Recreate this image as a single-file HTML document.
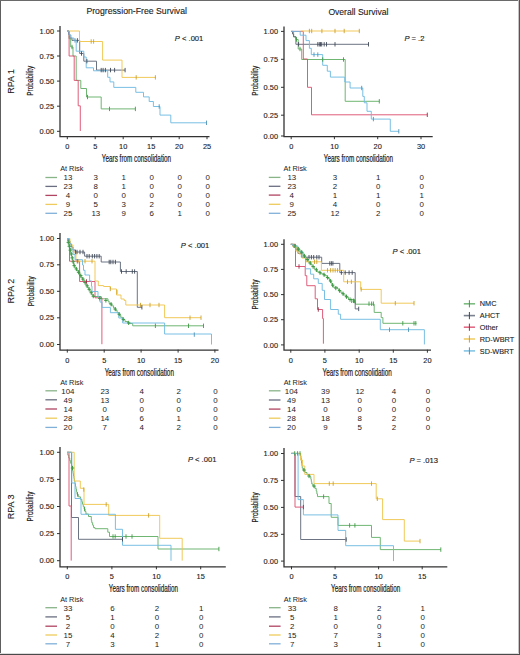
<!DOCTYPE html><html><head><meta charset="utf-8"><style>html,body{margin:0;padding:0;background:#fff;overflow:hidden}svg{display:block}text{font-family:"Liberation Sans",sans-serif}</style></head><body>
<svg width="520" height="655" viewBox="0 0 520 655">
<rect width="520" height="655" fill="#fff"/>
<text x="86.4" y="14.4" font-size="8.7" text-anchor="start" fill="#1c1c1c" stroke="#1c1c1c" stroke-width="0.12" textLength="100.6" lengthAdjust="spacingAndGlyphs">Progression-Free Survival</text>
<text x="328.4" y="14.6" font-size="8.7" text-anchor="start" fill="#1c1c1c" stroke="#1c1c1c" stroke-width="0.12" textLength="60" lengthAdjust="spacingAndGlyphs">Overall Survival</text>
<text x="0" y="0" font-size="9.3" text-anchor="middle" fill="#1c1c1c" stroke="#1c1c1c" stroke-width="0.12" textLength="24.8" lengthAdjust="spacingAndGlyphs" transform="translate(14.2,81.3) rotate(-90)">RPA 1</text>
<text x="0" y="0" font-size="9.3" text-anchor="middle" fill="#1c1c1c" stroke="#1c1c1c" stroke-width="0.12" textLength="24.8" lengthAdjust="spacingAndGlyphs" transform="translate(14.2,291.2) rotate(-90)">RPA 2</text>
<text x="0" y="0" font-size="9.3" text-anchor="middle" fill="#1c1c1c" stroke="#1c1c1c" stroke-width="0.12" textLength="24.8" lengthAdjust="spacingAndGlyphs" transform="translate(14.2,506.8) rotate(-90)">RPA 3</text>
<path d="M60.0,26V136.7H209.5" fill="none" stroke="#333333" stroke-width="1.3"/>
<path d="M57.0,31H60.0" stroke="#333333" stroke-width="1"/>
<text x="54.0" y="33.6" font-size="7.4" text-anchor="end" fill="#1c1c1c" stroke="#1c1c1c" stroke-width="0.12">1.00</text>
<path d="M57.0,56H60.0" stroke="#333333" stroke-width="1"/>
<text x="54.0" y="58.6" font-size="7.4" text-anchor="end" fill="#1c1c1c" stroke="#1c1c1c" stroke-width="0.12">0.75</text>
<path d="M57.0,81.1H60.0" stroke="#333333" stroke-width="1"/>
<text x="54.0" y="83.69999999999999" font-size="7.4" text-anchor="end" fill="#1c1c1c" stroke="#1c1c1c" stroke-width="0.12">0.50</text>
<path d="M57.0,106.2H60.0" stroke="#333333" stroke-width="1"/>
<text x="54.0" y="108.8" font-size="7.4" text-anchor="end" fill="#1c1c1c" stroke="#1c1c1c" stroke-width="0.12">0.25</text>
<path d="M57.0,131.3H60.0" stroke="#333333" stroke-width="1"/>
<text x="54.0" y="133.9" font-size="7.4" text-anchor="end" fill="#1c1c1c" stroke="#1c1c1c" stroke-width="0.12">0.00</text>
<path d="M67.3,136.2V139.2" stroke="#333333" stroke-width="1"/>
<text x="67.3" y="149.1" font-size="7.4" text-anchor="middle" fill="#1c1c1c" stroke="#1c1c1c" stroke-width="0.12">0</text>
<path d="M95.2,136.2V139.2" stroke="#333333" stroke-width="1"/>
<text x="95.2" y="149.1" font-size="7.4" text-anchor="middle" fill="#1c1c1c" stroke="#1c1c1c" stroke-width="0.12">5</text>
<path d="M123.2,136.2V139.2" stroke="#333333" stroke-width="1"/>
<text x="123.2" y="149.1" font-size="7.4" text-anchor="middle" fill="#1c1c1c" stroke="#1c1c1c" stroke-width="0.12">10</text>
<path d="M151.2,136.2V139.2" stroke="#333333" stroke-width="1"/>
<text x="151.2" y="149.1" font-size="7.4" text-anchor="middle" fill="#1c1c1c" stroke="#1c1c1c" stroke-width="0.12">15</text>
<path d="M179.2,136.2V139.2" stroke="#333333" stroke-width="1"/>
<text x="179.2" y="149.1" font-size="7.4" text-anchor="middle" fill="#1c1c1c" stroke="#1c1c1c" stroke-width="0.12">20</text>
<path d="M207,136.2V139.2" stroke="#333333" stroke-width="1"/>
<text x="207" y="149.1" font-size="7.4" text-anchor="middle" fill="#1c1c1c" stroke="#1c1c1c" stroke-width="0.12">25</text>
<text x="136.5" y="162.29999999999998" font-size="10.1" text-anchor="middle" fill="#1c1c1c" stroke="#1c1c1c" stroke-width="0.22" textLength="69.3" lengthAdjust="spacingAndGlyphs">Years from consolidation</text>
<text x="0" y="0" font-size="9.6" text-anchor="middle" fill="#1c1c1c" stroke="#1c1c1c" stroke-width="0.2" textLength="30" lengthAdjust="spacingAndGlyphs" transform="translate(33.3,80.7) rotate(-90)">Probability</text>
<text x="174.8" y="41" font-size="7.6" fill="#1c1c1c" stroke="#1c1c1c" stroke-width="0.15"><tspan font-style="italic">P</tspan> &lt; .001</text>
<text x="60.2" y="171.2" font-size="7.3" text-anchor="start" fill="#1c1c1c" stroke="#1c1c1c" stroke-width="0">At Risk</text>
<path d="M45.400000000000006,177.5H57.00000000000001" stroke="#88b488" stroke-width="1.3"/>
<text x="67.89999999999999" y="180.3" font-size="7.9" text-anchor="middle" fill="#1c1c1c" stroke="#1c1c1c" stroke-width="0">13</text>
<text x="95.8" y="180.3" font-size="7.9" text-anchor="middle" fill="#1c1c1c" stroke="#1c1c1c" stroke-width="0">3</text>
<text x="123.8" y="180.3" font-size="7.9" text-anchor="middle" fill="#1c1c1c" stroke="#1c1c1c" stroke-width="0">1</text>
<text x="151.79999999999998" y="180.3" font-size="7.9" text-anchor="middle" fill="#1c1c1c" stroke="#1c1c1c" stroke-width="0">0</text>
<text x="179.79999999999998" y="180.3" font-size="7.9" text-anchor="middle" fill="#1c1c1c" stroke="#1c1c1c" stroke-width="0">0</text>
<text x="207.6" y="180.3" font-size="7.9" text-anchor="middle" fill="#1c1c1c" stroke="#1c1c1c" stroke-width="0">0</text>
<path d="M45.400000000000006,186.4H57.00000000000001" stroke="#6a6e80" stroke-width="1.3"/>
<text x="67.89999999999999" y="189.20000000000002" font-size="7.9" text-anchor="middle" fill="#1c1c1c" stroke="#1c1c1c" stroke-width="0">23</text>
<text x="95.8" y="189.20000000000002" font-size="7.9" text-anchor="middle" fill="#1c1c1c" stroke="#1c1c1c" stroke-width="0">8</text>
<text x="123.8" y="189.20000000000002" font-size="7.9" text-anchor="middle" fill="#1c1c1c" stroke="#1c1c1c" stroke-width="0">1</text>
<text x="151.79999999999998" y="189.20000000000002" font-size="7.9" text-anchor="middle" fill="#1c1c1c" stroke="#1c1c1c" stroke-width="0">0</text>
<text x="179.79999999999998" y="189.20000000000002" font-size="7.9" text-anchor="middle" fill="#1c1c1c" stroke="#1c1c1c" stroke-width="0">0</text>
<text x="207.6" y="189.20000000000002" font-size="7.9" text-anchor="middle" fill="#1c1c1c" stroke="#1c1c1c" stroke-width="0">0</text>
<path d="M45.400000000000006,195.4H57.00000000000001" stroke="#b04462" stroke-width="1.3"/>
<text x="67.89999999999999" y="198.20000000000002" font-size="7.9" text-anchor="middle" fill="#1c1c1c" stroke="#1c1c1c" stroke-width="0">4</text>
<text x="95.8" y="198.20000000000002" font-size="7.9" text-anchor="middle" fill="#1c1c1c" stroke="#1c1c1c" stroke-width="0">0</text>
<text x="123.8" y="198.20000000000002" font-size="7.9" text-anchor="middle" fill="#1c1c1c" stroke="#1c1c1c" stroke-width="0">0</text>
<text x="151.79999999999998" y="198.20000000000002" font-size="7.9" text-anchor="middle" fill="#1c1c1c" stroke="#1c1c1c" stroke-width="0">0</text>
<text x="179.79999999999998" y="198.20000000000002" font-size="7.9" text-anchor="middle" fill="#1c1c1c" stroke="#1c1c1c" stroke-width="0">0</text>
<text x="207.6" y="198.20000000000002" font-size="7.9" text-anchor="middle" fill="#1c1c1c" stroke="#1c1c1c" stroke-width="0">0</text>
<path d="M45.400000000000006,204.4H57.00000000000001" stroke="#eecb5c" stroke-width="1.3"/>
<text x="67.89999999999999" y="207.20000000000002" font-size="7.9" text-anchor="middle" fill="#1c1c1c" stroke="#1c1c1c" stroke-width="0">9</text>
<text x="95.8" y="207.20000000000002" font-size="7.9" text-anchor="middle" fill="#1c1c1c" stroke="#1c1c1c" stroke-width="0">5</text>
<text x="123.8" y="207.20000000000002" font-size="7.9" text-anchor="middle" fill="#1c1c1c" stroke="#1c1c1c" stroke-width="0">3</text>
<text x="151.79999999999998" y="207.20000000000002" font-size="7.9" text-anchor="middle" fill="#1c1c1c" stroke="#1c1c1c" stroke-width="0">2</text>
<text x="179.79999999999998" y="207.20000000000002" font-size="7.9" text-anchor="middle" fill="#1c1c1c" stroke="#1c1c1c" stroke-width="0">0</text>
<text x="207.6" y="207.20000000000002" font-size="7.9" text-anchor="middle" fill="#1c1c1c" stroke="#1c1c1c" stroke-width="0">0</text>
<path d="M45.400000000000006,213.3H57.00000000000001" stroke="#80b0d8" stroke-width="1.3"/>
<text x="67.89999999999999" y="216.10000000000002" font-size="7.9" text-anchor="middle" fill="#1c1c1c" stroke="#1c1c1c" stroke-width="0">25</text>
<text x="95.8" y="216.10000000000002" font-size="7.9" text-anchor="middle" fill="#1c1c1c" stroke="#1c1c1c" stroke-width="0">13</text>
<text x="123.8" y="216.10000000000002" font-size="7.9" text-anchor="middle" fill="#1c1c1c" stroke="#1c1c1c" stroke-width="0">9</text>
<text x="151.79999999999998" y="216.10000000000002" font-size="7.9" text-anchor="middle" fill="#1c1c1c" stroke="#1c1c1c" stroke-width="0">6</text>
<text x="179.79999999999998" y="216.10000000000002" font-size="7.9" text-anchor="middle" fill="#1c1c1c" stroke="#1c1c1c" stroke-width="0">1</text>
<text x="207.6" y="216.10000000000002" font-size="7.9" text-anchor="middle" fill="#1c1c1c" stroke="#1c1c1c" stroke-width="0">0</text>
<path d="M67.3,31H69V38.7H70.7V47H73V56H76.2V80.4H80.8V88.5H86.5V97H101.2V108.9H135.4" fill="none" stroke="#68b26c" stroke-width="0.95"/>
<path d="M67.3,31H68.5V34.5H70V38H72V40.4H79.7V53.5H83.8V61.2H96.5V70.1H125.1" fill="none" stroke="#646c7c" stroke-width="0.95"/>
<path d="M67.3,31H69.1V56H74.2V80.4H78.2V105.8H80.3V131" fill="none" stroke="#dd5473" stroke-width="0.95"/>
<path d="M67.3,31H79.5V41.5H102.6V60.1H122V77.4H155.8" fill="none" stroke="#f0c650" stroke-width="0.95"/>
<path d="M67.3,31H69V35H71V38H73.8V40.4H76.2V51.2H83.8V57H86.2V67.8H93.5V70.8H107.7V77.3H110V81.9H113.8V87.4H135.8V92.3H143.5V96.9H149.2V101.5H153.4V106.5H160V115.1H170.8V122.8H206.5" fill="none" stroke="#72bce2" stroke-width="0.95"/>
<path d="M72,44.8V49.2" stroke="#3f9a45" stroke-width="0.9"/>
<path d="M87.5,94.8V99.2" stroke="#3f9a45" stroke-width="0.9"/>
<path d="M109.5,106.7V111.10000000000001" stroke="#3f9a45" stroke-width="0.9"/>
<path d="M135.4,106.7V111.10000000000001" stroke="#3f9a45" stroke-width="0.9"/>
<path d="M77.4,38.199999999999996V42.6" stroke="#3f4857" stroke-width="0.9"/>
<path d="M81.5,51.3V55.7" stroke="#3f4857" stroke-width="0.9"/>
<path d="M86.9,59.0V63.400000000000006" stroke="#3f4857" stroke-width="0.9"/>
<path d="M101.2,67.89999999999999V72.3" stroke="#3f4857" stroke-width="0.9"/>
<path d="M103.1,67.89999999999999V72.3" stroke="#3f4857" stroke-width="0.9"/>
<path d="M105.4,67.89999999999999V72.3" stroke="#3f4857" stroke-width="0.9"/>
<path d="M110.5,67.89999999999999V72.3" stroke="#3f4857" stroke-width="0.9"/>
<path d="M114.6,67.89999999999999V72.3" stroke="#3f4857" stroke-width="0.9"/>
<path d="M125.1,67.89999999999999V72.3" stroke="#3f4857" stroke-width="0.9"/>
<path d="M91.2,39.3V43.7" stroke="#caa030" stroke-width="0.9"/>
<path d="M93.6,39.3V43.7" stroke="#caa030" stroke-width="0.9"/>
<path d="M136.2,75.2V79.60000000000001" stroke="#caa030" stroke-width="0.9"/>
<path d="M155.4,75.2V79.60000000000001" stroke="#caa030" stroke-width="0.9"/>
<path d="M75,38.199999999999996V42.6" stroke="#4f93b5" stroke-width="0.9"/>
<path d="M159.2,104.3V108.7" stroke="#4f93b5" stroke-width="0.9"/>
<path d="M206.5,120.6V125.0" stroke="#4f93b5" stroke-width="0.9"/>
<path d="M284.0,26.4V136.7H432.7" fill="none" stroke="#333333" stroke-width="1.3"/>
<path d="M281.0,31.4H284.0" stroke="#333333" stroke-width="1"/>
<text x="278.0" y="34.0" font-size="7.4" text-anchor="end" fill="#1c1c1c" stroke="#1c1c1c" stroke-width="0.12">1.00</text>
<path d="M281.0,59.3H284.0" stroke="#333333" stroke-width="1"/>
<text x="278.0" y="61.9" font-size="7.4" text-anchor="end" fill="#1c1c1c" stroke="#1c1c1c" stroke-width="0.12">0.75</text>
<path d="M281.0,87.3H284.0" stroke="#333333" stroke-width="1"/>
<text x="278.0" y="89.89999999999999" font-size="7.4" text-anchor="end" fill="#1c1c1c" stroke="#1c1c1c" stroke-width="0.12">0.50</text>
<path d="M281.0,115.2H284.0" stroke="#333333" stroke-width="1"/>
<text x="278.0" y="117.8" font-size="7.4" text-anchor="end" fill="#1c1c1c" stroke="#1c1c1c" stroke-width="0.12">0.25</text>
<path d="M281.0,136H284.0" stroke="#333333" stroke-width="1"/>
<text x="278.0" y="138.6" font-size="7.4" text-anchor="end" fill="#1c1c1c" stroke="#1c1c1c" stroke-width="0.12">0.00</text>
<path d="M291.2,136.2V139.2" stroke="#333333" stroke-width="1"/>
<text x="291.2" y="149.1" font-size="7.4" text-anchor="middle" fill="#1c1c1c" stroke="#1c1c1c" stroke-width="0.12">0</text>
<path d="M334.4,136.2V139.2" stroke="#333333" stroke-width="1"/>
<text x="334.4" y="149.1" font-size="7.4" text-anchor="middle" fill="#1c1c1c" stroke="#1c1c1c" stroke-width="0.12">10</text>
<path d="M377.7,136.2V139.2" stroke="#333333" stroke-width="1"/>
<text x="377.7" y="149.1" font-size="7.4" text-anchor="middle" fill="#1c1c1c" stroke="#1c1c1c" stroke-width="0.12">20</text>
<path d="M421,136.2V139.2" stroke="#333333" stroke-width="1"/>
<text x="421" y="149.1" font-size="7.4" text-anchor="middle" fill="#1c1c1c" stroke="#1c1c1c" stroke-width="0.12">30</text>
<text x="358.4" y="162.29999999999998" font-size="10.1" text-anchor="middle" fill="#1c1c1c" stroke="#1c1c1c" stroke-width="0.22" textLength="69.3" lengthAdjust="spacingAndGlyphs">Years from consolidation</text>
<text x="0" y="0" font-size="9.6" text-anchor="middle" fill="#1c1c1c" stroke="#1c1c1c" stroke-width="0.2" textLength="30" lengthAdjust="spacingAndGlyphs" transform="translate(257.8,80.7) rotate(-90)">Probability</text>
<text x="404.4" y="41" font-size="7.6" fill="#1c1c1c" stroke="#1c1c1c" stroke-width="0.15"><tspan font-style="italic">P</tspan> = .2</text>
<text x="283.6" y="171.2" font-size="7.3" text-anchor="start" fill="#1c1c1c" stroke="#1c1c1c" stroke-width="0">At Risk</text>
<path d="M268.8,177.4H280.40000000000003" stroke="#88b488" stroke-width="1.3"/>
<text x="291.8" y="180.20000000000002" font-size="7.9" text-anchor="middle" fill="#1c1c1c" stroke="#1c1c1c" stroke-width="0">13</text>
<text x="335.0" y="180.20000000000002" font-size="7.9" text-anchor="middle" fill="#1c1c1c" stroke="#1c1c1c" stroke-width="0">3</text>
<text x="378.3" y="180.20000000000002" font-size="7.9" text-anchor="middle" fill="#1c1c1c" stroke="#1c1c1c" stroke-width="0">1</text>
<text x="421.6" y="180.20000000000002" font-size="7.9" text-anchor="middle" fill="#1c1c1c" stroke="#1c1c1c" stroke-width="0">0</text>
<path d="M268.8,186.3H280.40000000000003" stroke="#6a6e80" stroke-width="1.3"/>
<text x="291.8" y="189.10000000000002" font-size="7.9" text-anchor="middle" fill="#1c1c1c" stroke="#1c1c1c" stroke-width="0">23</text>
<text x="335.0" y="189.10000000000002" font-size="7.9" text-anchor="middle" fill="#1c1c1c" stroke="#1c1c1c" stroke-width="0">2</text>
<text x="378.3" y="189.10000000000002" font-size="7.9" text-anchor="middle" fill="#1c1c1c" stroke="#1c1c1c" stroke-width="0">0</text>
<text x="421.6" y="189.10000000000002" font-size="7.9" text-anchor="middle" fill="#1c1c1c" stroke="#1c1c1c" stroke-width="0">0</text>
<path d="M268.8,195.1H280.40000000000003" stroke="#b04462" stroke-width="1.3"/>
<text x="291.8" y="197.9" font-size="7.9" text-anchor="middle" fill="#1c1c1c" stroke="#1c1c1c" stroke-width="0">4</text>
<text x="335.0" y="197.9" font-size="7.9" text-anchor="middle" fill="#1c1c1c" stroke="#1c1c1c" stroke-width="0">1</text>
<text x="378.3" y="197.9" font-size="7.9" text-anchor="middle" fill="#1c1c1c" stroke="#1c1c1c" stroke-width="0">1</text>
<text x="421.6" y="197.9" font-size="7.9" text-anchor="middle" fill="#1c1c1c" stroke="#1c1c1c" stroke-width="0">1</text>
<path d="M268.8,204.3H280.40000000000003" stroke="#eecb5c" stroke-width="1.3"/>
<text x="291.8" y="207.10000000000002" font-size="7.9" text-anchor="middle" fill="#1c1c1c" stroke="#1c1c1c" stroke-width="0">9</text>
<text x="335.0" y="207.10000000000002" font-size="7.9" text-anchor="middle" fill="#1c1c1c" stroke="#1c1c1c" stroke-width="0">4</text>
<text x="378.3" y="207.10000000000002" font-size="7.9" text-anchor="middle" fill="#1c1c1c" stroke="#1c1c1c" stroke-width="0">0</text>
<text x="421.6" y="207.10000000000002" font-size="7.9" text-anchor="middle" fill="#1c1c1c" stroke="#1c1c1c" stroke-width="0">0</text>
<path d="M268.8,213.3H280.40000000000003" stroke="#80b0d8" stroke-width="1.3"/>
<text x="291.8" y="216.10000000000002" font-size="7.9" text-anchor="middle" fill="#1c1c1c" stroke="#1c1c1c" stroke-width="0">25</text>
<text x="335.0" y="216.10000000000002" font-size="7.9" text-anchor="middle" fill="#1c1c1c" stroke="#1c1c1c" stroke-width="0">12</text>
<text x="378.3" y="216.10000000000002" font-size="7.9" text-anchor="middle" fill="#1c1c1c" stroke="#1c1c1c" stroke-width="0">2</text>
<text x="421.6" y="216.10000000000002" font-size="7.9" text-anchor="middle" fill="#1c1c1c" stroke="#1c1c1c" stroke-width="0">0</text>
<path d="M291.2,31.4H293.6V36.8H296V39.5H298.2V49H301.7V59.5H345.2V101.3H379.3" fill="none" stroke="#68b26c" stroke-width="0.95"/>
<path d="M291.2,31.4H292.5V34H293.6V36.8H295.9V44.3H368.8" fill="none" stroke="#646c7c" stroke-width="0.95"/>
<path d="M291.2,31.4H303.3V59H307.5V87.3H311.5V114.8H427.3" fill="none" stroke="#dd5473" stroke-width="0.95"/>
<path d="M300.5,31H359.6" fill="none" stroke="#f0c650" stroke-width="0.95"/>
<path d="M291.2,31.4H300.2V35.2H306V40.6H309.4V48.3H311.3V54.6H322.7V65.3H327.3V71.2H330.4V77.1H344.8V82H350.1V88H362.8V96.4H364.3V102.8H367V111.3H371.3V119.1H390.3V131.3H398.8" fill="none" stroke="#72bce2" stroke-width="0.95"/>
<path d="M296.5,37.3V41.7" stroke="#3f9a45" stroke-width="0.9"/>
<path d="M300,46.8V51.2" stroke="#3f9a45" stroke-width="0.9"/>
<path d="M322.7,57.3V61.7" stroke="#3f9a45" stroke-width="0.9"/>
<path d="M343.5,57.3V61.7" stroke="#3f9a45" stroke-width="0.9"/>
<path d="M379.3,99.1V103.5" stroke="#3f9a45" stroke-width="0.9"/>
<path d="M298.6,42.099999999999994V46.5" stroke="#3f4857" stroke-width="0.9"/>
<path d="M317.8,42.099999999999994V46.5" stroke="#3f4857" stroke-width="0.9"/>
<path d="M319.3,42.099999999999994V46.5" stroke="#3f4857" stroke-width="0.9"/>
<path d="M320.5,42.099999999999994V46.5" stroke="#3f4857" stroke-width="0.9"/>
<path d="M321.7,42.099999999999994V46.5" stroke="#3f4857" stroke-width="0.9"/>
<path d="M324.2,42.099999999999994V46.5" stroke="#3f4857" stroke-width="0.9"/>
<path d="M326.5,42.099999999999994V46.5" stroke="#3f4857" stroke-width="0.9"/>
<path d="M335,42.099999999999994V46.5" stroke="#3f4857" stroke-width="0.9"/>
<path d="M368.5,42.099999999999994V46.5" stroke="#3f4857" stroke-width="0.9"/>
<path d="M427.3,112.6V117.0" stroke="#9c2c48" stroke-width="0.9"/>
<path d="M309.4,28.8V33.2" stroke="#caa030" stroke-width="0.9"/>
<path d="M311.7,28.8V33.2" stroke="#caa030" stroke-width="0.9"/>
<path d="M321.9,28.8V33.2" stroke="#caa030" stroke-width="0.9"/>
<path d="M335,28.8V33.2" stroke="#caa030" stroke-width="0.9"/>
<path d="M344.2,28.8V33.2" stroke="#caa030" stroke-width="0.9"/>
<path d="M359.3,28.8V33.2" stroke="#caa030" stroke-width="0.9"/>
<path d="M314,52.4V56.800000000000004" stroke="#4f93b5" stroke-width="0.9"/>
<path d="M317.8,52.4V56.800000000000004" stroke="#4f93b5" stroke-width="0.9"/>
<path d="M361.7,85.8V90.2" stroke="#4f93b5" stroke-width="0.9"/>
<path d="M373.4,116.89999999999999V121.3" stroke="#4f93b5" stroke-width="0.9"/>
<path d="M398.8,129.10000000000002V133.5" stroke="#4f93b5" stroke-width="0.9"/>
<path d="M60.0,232.9V350.1H218.5" fill="none" stroke="#333333" stroke-width="1.3"/>
<path d="M57.0,238.5H60.0" stroke="#333333" stroke-width="1"/>
<text x="54.0" y="241.1" font-size="7.4" text-anchor="end" fill="#1c1c1c" stroke="#1c1c1c" stroke-width="0.12">1.00</text>
<path d="M57.0,264.8H60.0" stroke="#333333" stroke-width="1"/>
<text x="54.0" y="267.40000000000003" font-size="7.4" text-anchor="end" fill="#1c1c1c" stroke="#1c1c1c" stroke-width="0.12">0.75</text>
<path d="M57.0,291.3H60.0" stroke="#333333" stroke-width="1"/>
<text x="54.0" y="293.90000000000003" font-size="7.4" text-anchor="end" fill="#1c1c1c" stroke="#1c1c1c" stroke-width="0.12">0.50</text>
<path d="M57.0,317.8H60.0" stroke="#333333" stroke-width="1"/>
<text x="54.0" y="320.40000000000003" font-size="7.4" text-anchor="end" fill="#1c1c1c" stroke="#1c1c1c" stroke-width="0.12">0.25</text>
<path d="M57.0,344.5H60.0" stroke="#333333" stroke-width="1"/>
<text x="54.0" y="347.1" font-size="7.4" text-anchor="end" fill="#1c1c1c" stroke="#1c1c1c" stroke-width="0.12">0.00</text>
<path d="M67.3,349.6V352.6" stroke="#333333" stroke-width="1"/>
<text x="67.3" y="362.5" font-size="7.4" text-anchor="middle" fill="#1c1c1c" stroke="#1c1c1c" stroke-width="0.12">0</text>
<path d="M104.2,349.6V352.6" stroke="#333333" stroke-width="1"/>
<text x="104.2" y="362.5" font-size="7.4" text-anchor="middle" fill="#1c1c1c" stroke="#1c1c1c" stroke-width="0.12">5</text>
<path d="M141.1,349.6V352.6" stroke="#333333" stroke-width="1"/>
<text x="141.1" y="362.5" font-size="7.4" text-anchor="middle" fill="#1c1c1c" stroke="#1c1c1c" stroke-width="0.12">10</text>
<path d="M178.1,349.6V352.6" stroke="#333333" stroke-width="1"/>
<text x="178.1" y="362.5" font-size="7.4" text-anchor="middle" fill="#1c1c1c" stroke="#1c1c1c" stroke-width="0.12">15</text>
<path d="M214.9,349.6V352.6" stroke="#333333" stroke-width="1"/>
<text x="214.9" y="362.5" font-size="7.4" text-anchor="middle" fill="#1c1c1c" stroke="#1c1c1c" stroke-width="0.12">20</text>
<text x="139.3" y="375.70000000000005" font-size="10.1" text-anchor="middle" fill="#1c1c1c" stroke="#1c1c1c" stroke-width="0.22" textLength="69.3" lengthAdjust="spacingAndGlyphs">Years from consolidation</text>
<text x="0" y="0" font-size="9.6" text-anchor="middle" fill="#1c1c1c" stroke="#1c1c1c" stroke-width="0.2" textLength="30" lengthAdjust="spacingAndGlyphs" transform="translate(33.7,291.3) rotate(-90)">Probability</text>
<text x="180.8" y="248.2" font-size="7.6" fill="#1c1c1c" stroke="#1c1c1c" stroke-width="0.15"><tspan font-style="italic">P</tspan> &lt; .001</text>
<text x="60.2" y="385.4" font-size="7.3" text-anchor="start" fill="#1c1c1c" stroke="#1c1c1c" stroke-width="0">At Risk</text>
<path d="M45.400000000000006,390.8H57.00000000000001" stroke="#88b488" stroke-width="1.3"/>
<text x="67.89999999999999" y="393.6" font-size="7.9" text-anchor="middle" fill="#1c1c1c" stroke="#1c1c1c" stroke-width="0">104</text>
<text x="104.8" y="393.6" font-size="7.9" text-anchor="middle" fill="#1c1c1c" stroke="#1c1c1c" stroke-width="0">23</text>
<text x="141.7" y="393.6" font-size="7.9" text-anchor="middle" fill="#1c1c1c" stroke="#1c1c1c" stroke-width="0">4</text>
<text x="178.7" y="393.6" font-size="7.9" text-anchor="middle" fill="#1c1c1c" stroke="#1c1c1c" stroke-width="0">2</text>
<text x="215.5" y="393.6" font-size="7.9" text-anchor="middle" fill="#1c1c1c" stroke="#1c1c1c" stroke-width="0">0</text>
<path d="M45.400000000000006,399.8H57.00000000000001" stroke="#6a6e80" stroke-width="1.3"/>
<text x="67.89999999999999" y="402.6" font-size="7.9" text-anchor="middle" fill="#1c1c1c" stroke="#1c1c1c" stroke-width="0">49</text>
<text x="104.8" y="402.6" font-size="7.9" text-anchor="middle" fill="#1c1c1c" stroke="#1c1c1c" stroke-width="0">13</text>
<text x="141.7" y="402.6" font-size="7.9" text-anchor="middle" fill="#1c1c1c" stroke="#1c1c1c" stroke-width="0">0</text>
<text x="178.7" y="402.6" font-size="7.9" text-anchor="middle" fill="#1c1c1c" stroke="#1c1c1c" stroke-width="0">0</text>
<text x="215.5" y="402.6" font-size="7.9" text-anchor="middle" fill="#1c1c1c" stroke="#1c1c1c" stroke-width="0">0</text>
<path d="M45.400000000000006,409.0H57.00000000000001" stroke="#b04462" stroke-width="1.3"/>
<text x="67.89999999999999" y="411.8" font-size="7.9" text-anchor="middle" fill="#1c1c1c" stroke="#1c1c1c" stroke-width="0">14</text>
<text x="104.8" y="411.8" font-size="7.9" text-anchor="middle" fill="#1c1c1c" stroke="#1c1c1c" stroke-width="0">0</text>
<text x="141.7" y="411.8" font-size="7.9" text-anchor="middle" fill="#1c1c1c" stroke="#1c1c1c" stroke-width="0">0</text>
<text x="178.7" y="411.8" font-size="7.9" text-anchor="middle" fill="#1c1c1c" stroke="#1c1c1c" stroke-width="0">0</text>
<text x="215.5" y="411.8" font-size="7.9" text-anchor="middle" fill="#1c1c1c" stroke="#1c1c1c" stroke-width="0">0</text>
<path d="M45.400000000000006,418.2H57.00000000000001" stroke="#eecb5c" stroke-width="1.3"/>
<text x="67.89999999999999" y="421.0" font-size="7.9" text-anchor="middle" fill="#1c1c1c" stroke="#1c1c1c" stroke-width="0">28</text>
<text x="104.8" y="421.0" font-size="7.9" text-anchor="middle" fill="#1c1c1c" stroke="#1c1c1c" stroke-width="0">14</text>
<text x="141.7" y="421.0" font-size="7.9" text-anchor="middle" fill="#1c1c1c" stroke="#1c1c1c" stroke-width="0">6</text>
<text x="178.7" y="421.0" font-size="7.9" text-anchor="middle" fill="#1c1c1c" stroke="#1c1c1c" stroke-width="0">1</text>
<text x="215.5" y="421.0" font-size="7.9" text-anchor="middle" fill="#1c1c1c" stroke="#1c1c1c" stroke-width="0">0</text>
<path d="M45.400000000000006,427.4H57.00000000000001" stroke="#80b0d8" stroke-width="1.3"/>
<text x="67.89999999999999" y="430.2" font-size="7.9" text-anchor="middle" fill="#1c1c1c" stroke="#1c1c1c" stroke-width="0">20</text>
<text x="104.8" y="430.2" font-size="7.9" text-anchor="middle" fill="#1c1c1c" stroke="#1c1c1c" stroke-width="0">7</text>
<text x="141.7" y="430.2" font-size="7.9" text-anchor="middle" fill="#1c1c1c" stroke="#1c1c1c" stroke-width="0">4</text>
<text x="178.7" y="430.2" font-size="7.9" text-anchor="middle" fill="#1c1c1c" stroke="#1c1c1c" stroke-width="0">2</text>
<text x="215.5" y="430.2" font-size="7.9" text-anchor="middle" fill="#1c1c1c" stroke="#1c1c1c" stroke-width="0">0</text>
<path d="M67.3,238.5H67.61V240.98H68.24V243.46H68.87V245.95H69.5V248.43H70.12V250.91H70.75V253.39H71.38V255.87H72.0V258.35H72.63V260.84H73.26V263.32H73.89V265.8H74.98V268.1H76.53V270.4H78.08V272.7H79.62V275.0H81.16V277.46H82.68V279.92H84.2V282.38H85.72V284.84H87.24V287.3H88.69V289.6H90.06V291.9H91.44V294.2H92.81V296.5H101.2V298.8H108V301.2H109.17V303.5H111.53V305.8H113.58V308.1H115.35V310.4H117.12V312.7H118.92V315.0H120.75V317.3H122.58V319.6H125.03V321.55H128.07V323.5H132.7V325.8H203.5" fill="none" stroke="#68b26c" stroke-width="0.95"/>
<path d="M67.3,238.5H68.5V241H70V244H71.5V247H73V250H75.4V252H84.6V256.2H101.2V262H120.4V271.5H137.3V307.3H141.9" fill="none" stroke="#646c7c" stroke-width="0.95"/>
<path d="M67.3,238.5H69.5V261.2H79.6V281.5H95V297.8H101.9V344.2" fill="none" stroke="#dd5473" stroke-width="0.95"/>
<path d="M67.3,238.5H70V245H73V252H76V261.2H95V281H98.3V285.6H103.6V286.5H110.4V289H116.5V295H121V299H124.2V300.5H125.8V305H164.6V317.7H201" fill="none" stroke="#f0c650" stroke-width="0.95"/>
<path d="M67.3,238.5H69V243.8H71V249.1H73V254.4H75V259.7H82.5V265H83.5V270.3H85V275H89.6V280.9H91.5V286.2H92V291.5H98V296.8H100V302.1H102V307.4H110.4V312.7H118.8V318H122.7V323H164.6V334H211.5V344.5" fill="none" stroke="#72bce2" stroke-width="0.95"/>
<path d="M66.58,242.38H69.98M68.28,240.28V244.48" stroke="#3f9a45" stroke-width="1"/>
<path d="M67.56,246.26H70.96000000000001M69.26,244.16V248.35999999999999" stroke="#3f9a45" stroke-width="1"/>
<path d="M68.53999999999999,250.13H71.94M70.24,248.03V252.23" stroke="#3f9a45" stroke-width="1"/>
<path d="M69.52,254.01H72.92M71.22,251.91V256.11" stroke="#3f9a45" stroke-width="1"/>
<path d="M70.5,257.89H73.9M72.2,255.79V259.99" stroke="#3f9a45" stroke-width="1"/>
<path d="M71.48,261.77H74.88000000000001M73.18,259.66999999999996V263.87" stroke="#3f9a45" stroke-width="1"/>
<path d="M72.46,265.65H75.86M74.16,263.54999999999995V267.75" stroke="#3f9a45" stroke-width="1"/>
<path d="M74.64999999999999,268.99H78.05M76.35,266.89V271.09000000000003" stroke="#3f9a45" stroke-width="1"/>
<path d="M76.88,272.3H80.28M78.58,270.2V274.40000000000003" stroke="#3f9a45" stroke-width="1"/>
<path d="M79.09,275.64H82.49000000000001M80.79,273.53999999999996V277.74" stroke="#3f9a45" stroke-width="1"/>
<path d="M81.2,279.04H84.60000000000001M82.9,276.94V281.14000000000004" stroke="#3f9a45" stroke-width="1"/>
<path d="M83.3,282.44H86.7M85.0,280.34V284.54" stroke="#3f9a45" stroke-width="1"/>
<path d="M85.39999999999999,285.84H88.8M87.1,283.73999999999995V287.94" stroke="#3f9a45" stroke-width="1"/>
<path d="M87.47,289.26H90.87M89.17,287.15999999999997V291.36" stroke="#3f9a45" stroke-width="1"/>
<path d="M89.53,292.7H92.93M91.23,290.59999999999997V294.8" stroke="#3f9a45" stroke-width="1"/>
<path d="M91.58,296.13H94.98M93.28,294.03V298.23" stroke="#3f9a45" stroke-width="1"/>
<path d="M98.03,298.36H101.43M99.73,296.26V300.46000000000004" stroke="#3f9a45" stroke-width="1"/>
<path d="M104.17999999999999,300.45H107.58M105.88,298.34999999999997V302.55" stroke="#3f9a45" stroke-width="1"/>
<path d="M109.34,304.17H112.74000000000001M111.04,302.07V306.27000000000004" stroke="#3f9a45" stroke-width="1"/>
<path d="M113.53999999999999,309.11H116.94M115.24,307.01V311.21000000000004" stroke="#3f9a45" stroke-width="1"/>
<path d="M117.53,314.24H120.93M119.23,312.14V316.34000000000003" stroke="#3f9a45" stroke-width="1"/>
<path d="M121.58,319.33H124.98M123.28,317.22999999999996V321.43" stroke="#3f9a45" stroke-width="1"/>
<path d="M126.98,322.91H130.38M128.68,320.81V325.01000000000005" stroke="#3f9a45" stroke-width="1"/>
<path d="M155.4,323.6V328.0" stroke="#3f9a45" stroke-width="0.9"/>
<path d="M188.5,323.6V328.0" stroke="#3f9a45" stroke-width="0.9"/>
<path d="M203.5,323.6V328.0" stroke="#3f9a45" stroke-width="0.9"/>
<path d="M75.4,249.8V254.2" stroke="#3f4857" stroke-width="0.9"/>
<path d="M77,249.8V254.2" stroke="#3f4857" stroke-width="0.9"/>
<path d="M80,249.8V254.2" stroke="#3f4857" stroke-width="0.9"/>
<path d="M83,249.8V254.2" stroke="#3f4857" stroke-width="0.9"/>
<path d="M87,254.0V258.4" stroke="#3f4857" stroke-width="0.9"/>
<path d="M89.2,254.0V258.4" stroke="#3f4857" stroke-width="0.9"/>
<path d="M92.3,254.0V258.4" stroke="#3f4857" stroke-width="0.9"/>
<path d="M94.6,254.0V258.4" stroke="#3f4857" stroke-width="0.9"/>
<path d="M96.9,254.0V258.4" stroke="#3f4857" stroke-width="0.9"/>
<path d="M99.2,254.0V258.4" stroke="#3f4857" stroke-width="0.9"/>
<path d="M109.2,259.8V264.2" stroke="#3f4857" stroke-width="0.9"/>
<path d="M110.8,259.8V264.2" stroke="#3f4857" stroke-width="0.9"/>
<path d="M113,259.8V264.2" stroke="#3f4857" stroke-width="0.9"/>
<path d="M115.4,259.8V264.2" stroke="#3f4857" stroke-width="0.9"/>
<path d="M121.5,269.3V273.7" stroke="#3f4857" stroke-width="0.9"/>
<path d="M126.2,269.3V273.7" stroke="#3f4857" stroke-width="0.9"/>
<path d="M132.3,269.3V273.7" stroke="#3f4857" stroke-width="0.9"/>
<path d="M134.6,269.3V273.7" stroke="#3f4857" stroke-width="0.9"/>
<path d="M141.9,305.1V309.5" stroke="#3f4857" stroke-width="0.9"/>
<path d="M77.3,259.0V263.4" stroke="#9c2c48" stroke-width="0.9"/>
<path d="M86.5,279.3V283.7" stroke="#9c2c48" stroke-width="0.9"/>
<path d="M78,259.0V263.4" stroke="#caa030" stroke-width="0.9"/>
<path d="M85,259.0V263.4" stroke="#caa030" stroke-width="0.9"/>
<path d="M92,259.0V263.4" stroke="#caa030" stroke-width="0.9"/>
<path d="M110.3,286.8V291.2" stroke="#caa030" stroke-width="0.9"/>
<path d="M117,289.8V294.2" stroke="#caa030" stroke-width="0.9"/>
<path d="M140.5,302.8V307.2" stroke="#caa030" stroke-width="0.9"/>
<path d="M150,302.8V307.2" stroke="#caa030" stroke-width="0.9"/>
<path d="M159,302.8V307.2" stroke="#caa030" stroke-width="0.9"/>
<path d="M190,315.5V319.9" stroke="#caa030" stroke-width="0.9"/>
<path d="M201,315.5V319.9" stroke="#caa030" stroke-width="0.9"/>
<path d="M194.3,332.40000000000003V336.8" stroke="#4f93b5" stroke-width="0.9"/>
<path d="M284.0,239.3V350.2H431" fill="none" stroke="#333333" stroke-width="1.3"/>
<path d="M281.0,244.3H284.0" stroke="#333333" stroke-width="1"/>
<text x="278.0" y="246.9" font-size="7.4" text-anchor="end" fill="#1c1c1c" stroke="#1c1c1c" stroke-width="0.12">1.00</text>
<path d="M281.0,269.4H284.0" stroke="#333333" stroke-width="1"/>
<text x="278.0" y="272.0" font-size="7.4" text-anchor="end" fill="#1c1c1c" stroke="#1c1c1c" stroke-width="0.12">0.75</text>
<path d="M281.0,294.6H284.0" stroke="#333333" stroke-width="1"/>
<text x="278.0" y="297.20000000000005" font-size="7.4" text-anchor="end" fill="#1c1c1c" stroke="#1c1c1c" stroke-width="0.12">0.50</text>
<path d="M281.0,319.7H284.0" stroke="#333333" stroke-width="1"/>
<text x="278.0" y="322.3" font-size="7.4" text-anchor="end" fill="#1c1c1c" stroke="#1c1c1c" stroke-width="0.12">0.25</text>
<path d="M281.0,344.9H284.0" stroke="#333333" stroke-width="1"/>
<text x="278.0" y="347.5" font-size="7.4" text-anchor="end" fill="#1c1c1c" stroke="#1c1c1c" stroke-width="0.12">0.00</text>
<path d="M290.8,349.7V352.7" stroke="#333333" stroke-width="1"/>
<text x="290.8" y="362.59999999999997" font-size="7.4" text-anchor="middle" fill="#1c1c1c" stroke="#1c1c1c" stroke-width="0.12">0</text>
<path d="M324.9,349.7V352.7" stroke="#333333" stroke-width="1"/>
<text x="324.9" y="362.59999999999997" font-size="7.4" text-anchor="middle" fill="#1c1c1c" stroke="#1c1c1c" stroke-width="0.12">5</text>
<path d="M359.2,349.7V352.7" stroke="#333333" stroke-width="1"/>
<text x="359.2" y="362.59999999999997" font-size="7.4" text-anchor="middle" fill="#1c1c1c" stroke="#1c1c1c" stroke-width="0.12">10</text>
<path d="M393.3,349.7V352.7" stroke="#333333" stroke-width="1"/>
<text x="393.3" y="362.59999999999997" font-size="7.4" text-anchor="middle" fill="#1c1c1c" stroke="#1c1c1c" stroke-width="0.12">15</text>
<path d="M427.4,349.7V352.7" stroke="#333333" stroke-width="1"/>
<text x="427.4" y="362.59999999999997" font-size="7.4" text-anchor="middle" fill="#1c1c1c" stroke="#1c1c1c" stroke-width="0.12">20</text>
<text x="357.2" y="375.8" font-size="10.1" text-anchor="middle" fill="#1c1c1c" stroke="#1c1c1c" stroke-width="0.22" textLength="69.3" lengthAdjust="spacingAndGlyphs">Years from consolidation</text>
<text x="0" y="0" font-size="9.6" text-anchor="middle" fill="#1c1c1c" stroke="#1c1c1c" stroke-width="0.2" textLength="30" lengthAdjust="spacingAndGlyphs" transform="translate(257.8,294.6) rotate(-90)">Probability</text>
<text x="392.5" y="254.4" font-size="7.6" fill="#1c1c1c" stroke="#1c1c1c" stroke-width="0.15"><tspan font-style="italic">P</tspan> &lt; .001</text>
<text x="283.7" y="385.4" font-size="7.3" text-anchor="start" fill="#1c1c1c" stroke="#1c1c1c" stroke-width="0">At Risk</text>
<path d="M268.9,390.8H280.5" stroke="#88b488" stroke-width="1.3"/>
<text x="291.40000000000003" y="393.6" font-size="7.9" text-anchor="middle" fill="#1c1c1c" stroke="#1c1c1c" stroke-width="0">104</text>
<text x="325.5" y="393.6" font-size="7.9" text-anchor="middle" fill="#1c1c1c" stroke="#1c1c1c" stroke-width="0">39</text>
<text x="359.8" y="393.6" font-size="7.9" text-anchor="middle" fill="#1c1c1c" stroke="#1c1c1c" stroke-width="0">12</text>
<text x="393.90000000000003" y="393.6" font-size="7.9" text-anchor="middle" fill="#1c1c1c" stroke="#1c1c1c" stroke-width="0">4</text>
<text x="428.0" y="393.6" font-size="7.9" text-anchor="middle" fill="#1c1c1c" stroke="#1c1c1c" stroke-width="0">0</text>
<path d="M268.9,400.0H280.5" stroke="#6a6e80" stroke-width="1.3"/>
<text x="291.40000000000003" y="402.8" font-size="7.9" text-anchor="middle" fill="#1c1c1c" stroke="#1c1c1c" stroke-width="0">49</text>
<text x="325.5" y="402.8" font-size="7.9" text-anchor="middle" fill="#1c1c1c" stroke="#1c1c1c" stroke-width="0">13</text>
<text x="359.8" y="402.8" font-size="7.9" text-anchor="middle" fill="#1c1c1c" stroke="#1c1c1c" stroke-width="0">0</text>
<text x="393.90000000000003" y="402.8" font-size="7.9" text-anchor="middle" fill="#1c1c1c" stroke="#1c1c1c" stroke-width="0">0</text>
<text x="428.0" y="402.8" font-size="7.9" text-anchor="middle" fill="#1c1c1c" stroke="#1c1c1c" stroke-width="0">0</text>
<path d="M268.9,409.1H280.5" stroke="#b04462" stroke-width="1.3"/>
<text x="291.40000000000003" y="411.90000000000003" font-size="7.9" text-anchor="middle" fill="#1c1c1c" stroke="#1c1c1c" stroke-width="0">14</text>
<text x="325.5" y="411.90000000000003" font-size="7.9" text-anchor="middle" fill="#1c1c1c" stroke="#1c1c1c" stroke-width="0">0</text>
<text x="359.8" y="411.90000000000003" font-size="7.9" text-anchor="middle" fill="#1c1c1c" stroke="#1c1c1c" stroke-width="0">0</text>
<text x="393.90000000000003" y="411.90000000000003" font-size="7.9" text-anchor="middle" fill="#1c1c1c" stroke="#1c1c1c" stroke-width="0">0</text>
<text x="428.0" y="411.90000000000003" font-size="7.9" text-anchor="middle" fill="#1c1c1c" stroke="#1c1c1c" stroke-width="0">0</text>
<path d="M268.9,418.2H280.5" stroke="#eecb5c" stroke-width="1.3"/>
<text x="291.40000000000003" y="421.0" font-size="7.9" text-anchor="middle" fill="#1c1c1c" stroke="#1c1c1c" stroke-width="0">28</text>
<text x="325.5" y="421.0" font-size="7.9" text-anchor="middle" fill="#1c1c1c" stroke="#1c1c1c" stroke-width="0">18</text>
<text x="359.8" y="421.0" font-size="7.9" text-anchor="middle" fill="#1c1c1c" stroke="#1c1c1c" stroke-width="0">8</text>
<text x="393.90000000000003" y="421.0" font-size="7.9" text-anchor="middle" fill="#1c1c1c" stroke="#1c1c1c" stroke-width="0">2</text>
<text x="428.0" y="421.0" font-size="7.9" text-anchor="middle" fill="#1c1c1c" stroke="#1c1c1c" stroke-width="0">0</text>
<path d="M268.9,427.4H280.5" stroke="#80b0d8" stroke-width="1.3"/>
<text x="291.40000000000003" y="430.2" font-size="7.9" text-anchor="middle" fill="#1c1c1c" stroke="#1c1c1c" stroke-width="0">20</text>
<text x="325.5" y="430.2" font-size="7.9" text-anchor="middle" fill="#1c1c1c" stroke="#1c1c1c" stroke-width="0">9</text>
<text x="359.8" y="430.2" font-size="7.9" text-anchor="middle" fill="#1c1c1c" stroke="#1c1c1c" stroke-width="0">5</text>
<text x="393.90000000000003" y="430.2" font-size="7.9" text-anchor="middle" fill="#1c1c1c" stroke="#1c1c1c" stroke-width="0">2</text>
<text x="428.0" y="430.2" font-size="7.9" text-anchor="middle" fill="#1c1c1c" stroke="#1c1c1c" stroke-width="0">0</text>
<path d="M290.8,244.3H293.7V244.9H294.98V247.2H297.55V249.5H300.12V251.8H302.17V253.87H303.7V255.93H305.23V258.0H306.88V260.12H308.62V262.25H310.38V264.38H312.12V266.5H314.32V269.15H316.98V271.8H320.23V273.75H324.07V275.7H327.15V278.35H329.45V281.0H331.12V283.07H332.15V285.13H333.18V287.2H337.5V288.8H338.67V290.87H341.0V292.93H343.33V295.0H345.82V297.25H348.48V299.5H353.7V300.3H354.27V302.25H355.43V304.2H374.2V312.4H381.2V317.6H382.9V323.3H416.6" fill="none" stroke="#68b26c" stroke-width="0.95"/>
<path d="M290.8,244.3H292.5V246H293.7V247.5H296V250H298V253.5H301.4V257.2H321.7V263.4H339.8V272.6H355.2V308.9H358.7" fill="none" stroke="#646c7c" stroke-width="0.95"/>
<path d="M290.8,244.3H295.5V266.5H305.2V275.7H306.8V285.7H315.2V298.8H317.5V309.5H322.6V318.5H323.4V343.7" fill="none" stroke="#dd5473" stroke-width="0.95"/>
<path d="M290.8,244.3H293V247H296V251H299V254H302V258H306V261.8H321.4V270.3H343.7V281.8H360.7V289.4H381.2V303.2H414" fill="none" stroke="#f0c650" stroke-width="0.95"/>
<path d="M290.8,244.3H293V246H297.8V248.3H299.4V252H303V257.5H305.5V268.8H310.6V274.2H313.7V278.8H318.3V283.4H322.2V290.3H324.5V299.5H330.6V309.5H338.3V314.2H340.6V319.3H380.3V329.7H424.4V344.4" fill="none" stroke="#72bce2" stroke-width="0.95"/>
<path d="M293.22,245.99H296.62M294.92,243.89000000000001V248.09" stroke="#3f9a45" stroke-width="1"/>
<path d="M296.65000000000003,249.06H300.05M298.35,246.96V251.16" stroke="#3f9a45" stroke-width="1"/>
<path d="M300.0,252.2H303.4M301.7,250.1V254.29999999999998" stroke="#3f9a45" stroke-width="1"/>
<path d="M302.74,255.9H306.14M304.44,253.8V258.0" stroke="#3f9a45" stroke-width="1"/>
<path d="M305.56,259.53H308.96M307.26,257.42999999999995V261.63" stroke="#3f9a45" stroke-width="1"/>
<path d="M308.48,263.08H311.88M310.18,260.97999999999996V265.18" stroke="#3f9a45" stroke-width="1"/>
<path d="M311.42,266.62H314.82M313.12,264.52V268.72" stroke="#3f9a45" stroke-width="1"/>
<path d="M314.67,269.87H318.07M316.37,267.77V271.97" stroke="#3f9a45" stroke-width="1"/>
<path d="M318.27000000000004,272.65H321.67M319.97,270.54999999999995V274.75" stroke="#3f9a45" stroke-width="1"/>
<path d="M322.37,274.72H325.77M324.07,272.62V276.82000000000005" stroke="#3f9a45" stroke-width="1"/>
<path d="M325.90000000000003,277.54H329.3M327.6,275.44V279.64000000000004" stroke="#3f9a45" stroke-width="1"/>
<path d="M328.91,281.02H332.31M330.61,278.91999999999996V283.12" stroke="#3f9a45" stroke-width="1"/>
<path d="M330.97,285.14H334.37M332.67,283.03999999999996V287.24" stroke="#3f9a45" stroke-width="1"/>
<path d="M334.11,288.09H337.51M335.81,285.98999999999995V290.19" stroke="#3f9a45" stroke-width="1"/>
<path d="M337.87,290.64H341.27M339.57,288.53999999999996V292.74" stroke="#3f9a45" stroke-width="1"/>
<path d="M341.32,293.69H344.71999999999997M343.02,291.59V295.79" stroke="#3f9a45" stroke-width="1"/>
<path d="M344.8,296.69H348.2M346.5,294.59V298.79" stroke="#3f9a45" stroke-width="1"/>
<path d="M348.36,299.55H351.76M350.06,297.45V301.65000000000003" stroke="#3f9a45" stroke-width="1"/>
<path d="M352.45,301.06H355.84999999999997M354.15,298.96V303.16" stroke="#3f9a45" stroke-width="1"/>
<path d="M351.7,298.6V303.0" stroke="#3f9a45" stroke-width="0.9"/>
<path d="M353.5,298.6V303.0" stroke="#3f9a45" stroke-width="0.9"/>
<path d="M369,301.5V305.9" stroke="#3f9a45" stroke-width="0.9"/>
<path d="M371.6,301.5V305.9" stroke="#3f9a45" stroke-width="0.9"/>
<path d="M373.4,301.5V305.9" stroke="#3f9a45" stroke-width="0.9"/>
<path d="M402.8,321.1V325.5" stroke="#3f9a45" stroke-width="0.9"/>
<path d="M414,321.1V325.5" stroke="#3f9a45" stroke-width="0.9"/>
<path d="M415.8,321.1V325.5" stroke="#3f9a45" stroke-width="0.9"/>
<path d="M309,255.0V259.4" stroke="#3f4857" stroke-width="0.9"/>
<path d="M311.4,255.0V259.4" stroke="#3f4857" stroke-width="0.9"/>
<path d="M313.7,255.0V259.4" stroke="#3f4857" stroke-width="0.9"/>
<path d="M316.8,255.0V259.4" stroke="#3f4857" stroke-width="0.9"/>
<path d="M319,255.0V259.4" stroke="#3f4857" stroke-width="0.9"/>
<path d="M329.8,261.2V265.59999999999997" stroke="#3f4857" stroke-width="0.9"/>
<path d="M331.4,261.2V265.59999999999997" stroke="#3f4857" stroke-width="0.9"/>
<path d="M332.9,261.2V265.59999999999997" stroke="#3f4857" stroke-width="0.9"/>
<path d="M341.4,270.40000000000003V274.8" stroke="#3f4857" stroke-width="0.9"/>
<path d="M345.2,270.40000000000003V274.8" stroke="#3f4857" stroke-width="0.9"/>
<path d="M349.1,270.40000000000003V274.8" stroke="#3f4857" stroke-width="0.9"/>
<path d="M352.2,270.40000000000003V274.8" stroke="#3f4857" stroke-width="0.9"/>
<path d="M358.7,306.7V311.09999999999997" stroke="#3f4857" stroke-width="0.9"/>
<path d="M299,264.3V268.7" stroke="#9c2c48" stroke-width="0.9"/>
<path d="M318.3,307.3V311.7" stroke="#9c2c48" stroke-width="0.9"/>
<path d="M314.5,259.6V264.0" stroke="#caa030" stroke-width="0.9"/>
<path d="M316.8,259.6V264.0" stroke="#caa030" stroke-width="0.9"/>
<path d="M327.5,268.1V272.5" stroke="#caa030" stroke-width="0.9"/>
<path d="M330.6,268.1V272.5" stroke="#caa030" stroke-width="0.9"/>
<path d="M333,268.1V272.5" stroke="#caa030" stroke-width="0.9"/>
<path d="M335.2,268.1V272.5" stroke="#caa030" stroke-width="0.9"/>
<path d="M337.5,268.1V272.5" stroke="#caa030" stroke-width="0.9"/>
<path d="M347.5,279.6V284.0" stroke="#caa030" stroke-width="0.9"/>
<path d="M351.4,279.6V284.0" stroke="#caa030" stroke-width="0.9"/>
<path d="M361.2,287.2V291.59999999999997" stroke="#caa030" stroke-width="0.9"/>
<path d="M395.3,301.0V305.4" stroke="#caa030" stroke-width="0.9"/>
<path d="M414,301.0V305.4" stroke="#caa030" stroke-width="0.9"/>
<path d="M389.5,327.5V331.9" stroke="#4f93b5" stroke-width="0.9"/>
<path d="M408.5,327.5V331.9" stroke="#4f93b5" stroke-width="0.9"/>
<path d="M60.0,447V566.8H225.8" fill="none" stroke="#333333" stroke-width="1.3"/>
<path d="M57.0,452.3H60.0" stroke="#333333" stroke-width="1"/>
<text x="54.0" y="454.90000000000003" font-size="7.4" text-anchor="end" fill="#1c1c1c" stroke="#1c1c1c" stroke-width="0.12">1.00</text>
<path d="M57.0,479.4H60.0" stroke="#333333" stroke-width="1"/>
<text x="54.0" y="482.0" font-size="7.4" text-anchor="end" fill="#1c1c1c" stroke="#1c1c1c" stroke-width="0.12">0.75</text>
<path d="M57.0,506.5H60.0" stroke="#333333" stroke-width="1"/>
<text x="54.0" y="509.1" font-size="7.4" text-anchor="end" fill="#1c1c1c" stroke="#1c1c1c" stroke-width="0.12">0.50</text>
<path d="M57.0,533.6H60.0" stroke="#333333" stroke-width="1"/>
<text x="54.0" y="536.2" font-size="7.4" text-anchor="end" fill="#1c1c1c" stroke="#1c1c1c" stroke-width="0.12">0.25</text>
<path d="M57.0,560.7H60.0" stroke="#333333" stroke-width="1"/>
<text x="54.0" y="563.3000000000001" font-size="7.4" text-anchor="end" fill="#1c1c1c" stroke="#1c1c1c" stroke-width="0.12">0.00</text>
<path d="M67.3,566.3V569.3" stroke="#333333" stroke-width="1"/>
<text x="67.3" y="579.1999999999999" font-size="7.4" text-anchor="middle" fill="#1c1c1c" stroke="#1c1c1c" stroke-width="0.12">0</text>
<path d="M111.9,566.3V569.3" stroke="#333333" stroke-width="1"/>
<text x="111.9" y="579.1999999999999" font-size="7.4" text-anchor="middle" fill="#1c1c1c" stroke="#1c1c1c" stroke-width="0.12">5</text>
<path d="M156.4,566.3V569.3" stroke="#333333" stroke-width="1"/>
<text x="156.4" y="579.1999999999999" font-size="7.4" text-anchor="middle" fill="#1c1c1c" stroke="#1c1c1c" stroke-width="0.12">10</text>
<path d="M200.7,566.3V569.3" stroke="#333333" stroke-width="1"/>
<text x="200.7" y="579.1999999999999" font-size="7.4" text-anchor="middle" fill="#1c1c1c" stroke="#1c1c1c" stroke-width="0.12">15</text>
<text x="143.4" y="592.4" font-size="10.1" text-anchor="middle" fill="#1c1c1c" stroke="#1c1c1c" stroke-width="0.22" textLength="69.3" lengthAdjust="spacingAndGlyphs">Years from consolidation</text>
<text x="0" y="0" font-size="9.6" text-anchor="middle" fill="#1c1c1c" stroke="#1c1c1c" stroke-width="0.2" textLength="30" lengthAdjust="spacingAndGlyphs" transform="translate(33.3,506.5) rotate(-90)">Probability</text>
<text x="187.9" y="461.8" font-size="7.6" fill="#1c1c1c" stroke="#1c1c1c" stroke-width="0.15"><tspan font-style="italic">P</tspan> &lt; .001</text>
<text x="60.2" y="602.3" font-size="7.3" text-anchor="start" fill="#1c1c1c" stroke="#1c1c1c" stroke-width="0">At Risk</text>
<path d="M45.400000000000006,607.7H57.00000000000001" stroke="#88b488" stroke-width="1.3"/>
<text x="67.89999999999999" y="610.5" font-size="7.9" text-anchor="middle" fill="#1c1c1c" stroke="#1c1c1c" stroke-width="0">33</text>
<text x="112.5" y="610.5" font-size="7.9" text-anchor="middle" fill="#1c1c1c" stroke="#1c1c1c" stroke-width="0">6</text>
<text x="157.0" y="610.5" font-size="7.9" text-anchor="middle" fill="#1c1c1c" stroke="#1c1c1c" stroke-width="0">2</text>
<text x="201.29999999999998" y="610.5" font-size="7.9" text-anchor="middle" fill="#1c1c1c" stroke="#1c1c1c" stroke-width="0">1</text>
<path d="M45.400000000000006,616.9H57.00000000000001" stroke="#6a6e80" stroke-width="1.3"/>
<text x="67.89999999999999" y="619.6999999999999" font-size="7.9" text-anchor="middle" fill="#1c1c1c" stroke="#1c1c1c" stroke-width="0">5</text>
<text x="112.5" y="619.6999999999999" font-size="7.9" text-anchor="middle" fill="#1c1c1c" stroke="#1c1c1c" stroke-width="0">1</text>
<text x="157.0" y="619.6999999999999" font-size="7.9" text-anchor="middle" fill="#1c1c1c" stroke="#1c1c1c" stroke-width="0">0</text>
<text x="201.29999999999998" y="619.6999999999999" font-size="7.9" text-anchor="middle" fill="#1c1c1c" stroke="#1c1c1c" stroke-width="0">0</text>
<path d="M45.400000000000006,626.2H57.00000000000001" stroke="#b04462" stroke-width="1.3"/>
<text x="67.89999999999999" y="629.0" font-size="7.9" text-anchor="middle" fill="#1c1c1c" stroke="#1c1c1c" stroke-width="0">2</text>
<text x="112.5" y="629.0" font-size="7.9" text-anchor="middle" fill="#1c1c1c" stroke="#1c1c1c" stroke-width="0">0</text>
<text x="157.0" y="629.0" font-size="7.9" text-anchor="middle" fill="#1c1c1c" stroke="#1c1c1c" stroke-width="0">0</text>
<text x="201.29999999999998" y="629.0" font-size="7.9" text-anchor="middle" fill="#1c1c1c" stroke="#1c1c1c" stroke-width="0">0</text>
<path d="M45.400000000000006,635.0H57.00000000000001" stroke="#eecb5c" stroke-width="1.3"/>
<text x="67.89999999999999" y="637.8" font-size="7.9" text-anchor="middle" fill="#1c1c1c" stroke="#1c1c1c" stroke-width="0">15</text>
<text x="112.5" y="637.8" font-size="7.9" text-anchor="middle" fill="#1c1c1c" stroke="#1c1c1c" stroke-width="0">4</text>
<text x="157.0" y="637.8" font-size="7.9" text-anchor="middle" fill="#1c1c1c" stroke="#1c1c1c" stroke-width="0">2</text>
<text x="201.29999999999998" y="637.8" font-size="7.9" text-anchor="middle" fill="#1c1c1c" stroke="#1c1c1c" stroke-width="0">0</text>
<path d="M45.400000000000006,643.8H57.00000000000001" stroke="#80b0d8" stroke-width="1.3"/>
<text x="67.89999999999999" y="646.5999999999999" font-size="7.9" text-anchor="middle" fill="#1c1c1c" stroke="#1c1c1c" stroke-width="0">7</text>
<text x="112.5" y="646.5999999999999" font-size="7.9" text-anchor="middle" fill="#1c1c1c" stroke="#1c1c1c" stroke-width="0">3</text>
<text x="157.0" y="646.5999999999999" font-size="7.9" text-anchor="middle" fill="#1c1c1c" stroke="#1c1c1c" stroke-width="0">1</text>
<text x="201.29999999999998" y="646.5999999999999" font-size="7.9" text-anchor="middle" fill="#1c1c1c" stroke="#1c1c1c" stroke-width="0">0</text>
<path d="M67.3,452.3H67.8V455.15H68.8V458.0H69.75V460.67H70.65V463.33H71.55V466.0H72.22V468.5H72.66V471.0H73.1V473.5H73.54V476.0H73.98V478.5H74.46V481.15H74.97V483.8H75.49V486.45H76.01V489.1H76.53V491.75H77.04V494.4H78.35V496.85H80.45V499.3H81.83V501.75H82.47V504.2H83.25V506.6H84.15V509.0H85.05V511.5H85.95V514.0H88.5V516.5H91.3V520.3H91.75V522.73H92.65V525.17H93.55V527.6H95V528.7H107.8V532.2H109.5V536.5H158V549H218.9" fill="none" stroke="#68b26c" stroke-width="0.95"/>
<path d="M67.3,452.3H71.5V517.5H78.5V539.3H122.5" fill="none" stroke="#646c7c" stroke-width="0.95"/>
<path d="M67.3,452.3H69V506H71.2V560.6" fill="none" stroke="#dd5473" stroke-width="0.95"/>
<path d="M67.3,452.3H74.2V481H80.3V488.3H84V504.4H108.7V515.4H159.7V538.3H182.2V560.6" fill="none" stroke="#f0c650" stroke-width="0.95"/>
<path d="M67.3,452.3H71.8V483H75V498.5H81V514.3H115.4V529.3H122.5V545.3H171V560.8" fill="none" stroke="#72bce2" stroke-width="0.95"/>
<path d="M70.8,468H74.2M72.5,465.9V470.1" stroke="#3f9a45" stroke-width="1"/>
<path d="M77.5,492.2V496.59999999999997" stroke="#3f9a45" stroke-width="0.9"/>
<path d="M84.6,506.8V511.2" stroke="#3f9a45" stroke-width="0.9"/>
<path d="M113,534.3V538.7" stroke="#3f9a45" stroke-width="0.9"/>
<path d="M115.2,534.3V538.7" stroke="#3f9a45" stroke-width="0.9"/>
<path d="M126,534.3V538.7" stroke="#3f9a45" stroke-width="0.9"/>
<path d="M132,534.3V538.7" stroke="#3f9a45" stroke-width="0.9"/>
<path d="M218.9,546.8V551.2" stroke="#3f9a45" stroke-width="0.9"/>
<path d="M122.5,537.0999999999999V541.5" stroke="#3f4857" stroke-width="0.9"/>
<path d="M83.8,487.3V491.7" stroke="#caa030" stroke-width="0.9"/>
<path d="M106.2,502.2V506.59999999999997" stroke="#caa030" stroke-width="0.9"/>
<path d="M148.6,513.1999999999999V517.6" stroke="#caa030" stroke-width="0.9"/>
<path d="M284.0,448V566.8H447.3" fill="none" stroke="#333333" stroke-width="1.3"/>
<path d="M281.0,453.5H284.0" stroke="#333333" stroke-width="1"/>
<text x="278.0" y="456.1" font-size="7.4" text-anchor="end" fill="#1c1c1c" stroke="#1c1c1c" stroke-width="0.12">1.00</text>
<path d="M281.0,480.4H284.0" stroke="#333333" stroke-width="1"/>
<text x="278.0" y="483.0" font-size="7.4" text-anchor="end" fill="#1c1c1c" stroke="#1c1c1c" stroke-width="0.12">0.75</text>
<path d="M281.0,507.4H284.0" stroke="#333333" stroke-width="1"/>
<text x="278.0" y="510.0" font-size="7.4" text-anchor="end" fill="#1c1c1c" stroke="#1c1c1c" stroke-width="0.12">0.50</text>
<path d="M281.0,534.3H284.0" stroke="#333333" stroke-width="1"/>
<text x="278.0" y="536.9" font-size="7.4" text-anchor="end" fill="#1c1c1c" stroke="#1c1c1c" stroke-width="0.12">0.25</text>
<path d="M281.0,561.1H284.0" stroke="#333333" stroke-width="1"/>
<text x="278.0" y="563.7" font-size="7.4" text-anchor="end" fill="#1c1c1c" stroke="#1c1c1c" stroke-width="0.12">0.00</text>
<path d="M291.5,566.3V569.3" stroke="#333333" stroke-width="1"/>
<text x="291.5" y="579.1999999999999" font-size="7.4" text-anchor="middle" fill="#1c1c1c" stroke="#1c1c1c" stroke-width="0.12">0</text>
<path d="M335.1,566.3V569.3" stroke="#333333" stroke-width="1"/>
<text x="335.1" y="579.1999999999999" font-size="7.4" text-anchor="middle" fill="#1c1c1c" stroke="#1c1c1c" stroke-width="0.12">5</text>
<path d="M378.6,566.3V569.3" stroke="#333333" stroke-width="1"/>
<text x="378.6" y="579.1999999999999" font-size="7.4" text-anchor="middle" fill="#1c1c1c" stroke="#1c1c1c" stroke-width="0.12">10</text>
<path d="M422.2,566.3V569.3" stroke="#333333" stroke-width="1"/>
<text x="422.2" y="579.1999999999999" font-size="7.4" text-anchor="middle" fill="#1c1c1c" stroke="#1c1c1c" stroke-width="0.12">15</text>
<text x="365.7" y="592.4" font-size="10.1" text-anchor="middle" fill="#1c1c1c" stroke="#1c1c1c" stroke-width="0.22" textLength="69.3" lengthAdjust="spacingAndGlyphs">Years from consolidation</text>
<text x="0" y="0" font-size="9.6" text-anchor="middle" fill="#1c1c1c" stroke="#1c1c1c" stroke-width="0.2" textLength="30" lengthAdjust="spacingAndGlyphs" transform="translate(257.8,507.4) rotate(-90)">Probability</text>
<text x="409.4" y="463.3" font-size="7.6" fill="#1c1c1c" stroke="#1c1c1c" stroke-width="0.15"><tspan font-style="italic">P</tspan> = .013</text>
<text x="283.8" y="602.3" font-size="7.3" text-anchor="start" fill="#1c1c1c" stroke="#1c1c1c" stroke-width="0">At Risk</text>
<path d="M269.0,607.7H280.6" stroke="#88b488" stroke-width="1.3"/>
<text x="292.1" y="610.5" font-size="7.9" text-anchor="middle" fill="#1c1c1c" stroke="#1c1c1c" stroke-width="0">33</text>
<text x="335.70000000000005" y="610.5" font-size="7.9" text-anchor="middle" fill="#1c1c1c" stroke="#1c1c1c" stroke-width="0">8</text>
<text x="379.20000000000005" y="610.5" font-size="7.9" text-anchor="middle" fill="#1c1c1c" stroke="#1c1c1c" stroke-width="0">2</text>
<text x="422.8" y="610.5" font-size="7.9" text-anchor="middle" fill="#1c1c1c" stroke="#1c1c1c" stroke-width="0">1</text>
<path d="M269.0,616.9H280.6" stroke="#6a6e80" stroke-width="1.3"/>
<text x="292.1" y="619.6999999999999" font-size="7.9" text-anchor="middle" fill="#1c1c1c" stroke="#1c1c1c" stroke-width="0">5</text>
<text x="335.70000000000005" y="619.6999999999999" font-size="7.9" text-anchor="middle" fill="#1c1c1c" stroke="#1c1c1c" stroke-width="0">1</text>
<text x="379.20000000000005" y="619.6999999999999" font-size="7.9" text-anchor="middle" fill="#1c1c1c" stroke="#1c1c1c" stroke-width="0">0</text>
<text x="422.8" y="619.6999999999999" font-size="7.9" text-anchor="middle" fill="#1c1c1c" stroke="#1c1c1c" stroke-width="0">0</text>
<path d="M269.0,626.2H280.6" stroke="#b04462" stroke-width="1.3"/>
<text x="292.1" y="629.0" font-size="7.9" text-anchor="middle" fill="#1c1c1c" stroke="#1c1c1c" stroke-width="0">2</text>
<text x="335.70000000000005" y="629.0" font-size="7.9" text-anchor="middle" fill="#1c1c1c" stroke="#1c1c1c" stroke-width="0">0</text>
<text x="379.20000000000005" y="629.0" font-size="7.9" text-anchor="middle" fill="#1c1c1c" stroke="#1c1c1c" stroke-width="0">0</text>
<text x="422.8" y="629.0" font-size="7.9" text-anchor="middle" fill="#1c1c1c" stroke="#1c1c1c" stroke-width="0">0</text>
<path d="M269.0,635.0H280.6" stroke="#eecb5c" stroke-width="1.3"/>
<text x="292.1" y="637.8" font-size="7.9" text-anchor="middle" fill="#1c1c1c" stroke="#1c1c1c" stroke-width="0">15</text>
<text x="335.70000000000005" y="637.8" font-size="7.9" text-anchor="middle" fill="#1c1c1c" stroke="#1c1c1c" stroke-width="0">7</text>
<text x="379.20000000000005" y="637.8" font-size="7.9" text-anchor="middle" fill="#1c1c1c" stroke="#1c1c1c" stroke-width="0">3</text>
<text x="422.8" y="637.8" font-size="7.9" text-anchor="middle" fill="#1c1c1c" stroke="#1c1c1c" stroke-width="0">0</text>
<path d="M269.0,643.8H280.6" stroke="#80b0d8" stroke-width="1.3"/>
<text x="292.1" y="646.5999999999999" font-size="7.9" text-anchor="middle" fill="#1c1c1c" stroke="#1c1c1c" stroke-width="0">7</text>
<text x="335.70000000000005" y="646.5999999999999" font-size="7.9" text-anchor="middle" fill="#1c1c1c" stroke="#1c1c1c" stroke-width="0">3</text>
<text x="379.20000000000005" y="646.5999999999999" font-size="7.9" text-anchor="middle" fill="#1c1c1c" stroke="#1c1c1c" stroke-width="0">1</text>
<text x="422.8" y="646.5999999999999" font-size="7.9" text-anchor="middle" fill="#1c1c1c" stroke="#1c1c1c" stroke-width="0">0</text>
<path d="M291.4,453.4H300.5V453.4H300.66V455.87H300.98V458.33H301.29V460.8H301.61V463.27H301.92V465.73H302.24V468.2H303.25V470.35H304.95V472.5H307.0V474.65H309.4V476.8H310.83V479.2H311.3V481.6H311.77V484.0H312.98V486.2H314.92V488.4H316.22V491.13H316.85V493.87H317.48V496.6H329V503.5H331.2V517.3H338V525.4H371.5V537.4H380.3V549.6H440.8" fill="none" stroke="#68b26c" stroke-width="0.95"/>
<path d="M291.4,453.4H295.0V496.5H300.7V539.5H346.2" fill="none" stroke="#646c7c" stroke-width="0.95"/>
<path d="M291.4,453.4H295.0V507.1H303.4" fill="none" stroke="#dd5473" stroke-width="0.95"/>
<path d="M291.4,453.4H300.5V460H302.5V466H304.8V474.4H314V483.6H376.2V498.8H382.6V519.6H404.3V541.1H420" fill="none" stroke="#f0c650" stroke-width="0.95"/>
<path d="M291.4,453.4H298.1V499.6H303.4V514.9H338V530.4H345.7V545.7H393.5V561.1" fill="none" stroke="#72bce2" stroke-width="0.95"/>
<path d="M294.7,451.2V455.59999999999997" stroke="#3f9a45" stroke-width="0.9"/>
<path d="M297.6,451.2V455.59999999999997" stroke="#3f9a45" stroke-width="0.9"/>
<path d="M300,451.2V455.59999999999997" stroke="#3f9a45" stroke-width="0.9"/>
<path d="M302.3,470H305.7M304,467.9V472.1" stroke="#3f9a45" stroke-width="1"/>
<path d="M307.3,476H310.7M309,473.9V478.1" stroke="#3f9a45" stroke-width="1"/>
<path d="M312.3,486H315.7M314,483.9V488.1" stroke="#3f9a45" stroke-width="1"/>
<path d="M323.6,494.40000000000003V498.8" stroke="#3f9a45" stroke-width="0.9"/>
<path d="M349.6,523.1999999999999V527.6" stroke="#3f9a45" stroke-width="0.9"/>
<path d="M354.9,523.1999999999999V527.6" stroke="#3f9a45" stroke-width="0.9"/>
<path d="M440.8,547.4V551.8000000000001" stroke="#3f9a45" stroke-width="0.9"/>
<path d="M346.2,537.3V541.7" stroke="#3f4857" stroke-width="0.9"/>
<path d="M303.4,504.90000000000003V509.3" stroke="#9c2c48" stroke-width="0.9"/>
<path d="M329.3,481.40000000000003V485.8" stroke="#caa030" stroke-width="0.9"/>
<path d="M333.2,481.40000000000003V485.8" stroke="#caa030" stroke-width="0.9"/>
<path d="M371.5,481.40000000000003V485.8" stroke="#caa030" stroke-width="0.9"/>
<path d="M377.3,496.6V501.0" stroke="#caa030" stroke-width="0.9"/>
<path d="M420,538.9V543.3000000000001" stroke="#caa030" stroke-width="0.9"/>
<path d="M463.8,303.8H475" stroke="#68b26c" stroke-width="1.6" opacity="0.85"/>
<path d="M469.4,300.2V307.40000000000003" stroke="#3f9a45" stroke-width="1"/>
<text x="479.8" y="306.40000000000003" font-size="7.3" text-anchor="start" fill="#1c1c1c" stroke="#1c1c1c" stroke-width="0.1">NMC</text>
<path d="M463.8,315.6H475" stroke="#646c7c" stroke-width="1.6" opacity="0.85"/>
<path d="M469.4,312.0V319.20000000000005" stroke="#3f4857" stroke-width="1"/>
<text x="479.8" y="318.20000000000005" font-size="7.3" text-anchor="start" fill="#1c1c1c" stroke="#1c1c1c" stroke-width="0.1">AHCT</text>
<path d="M463.8,327.2H475" stroke="#dd5473" stroke-width="1.6" opacity="0.85"/>
<path d="M469.4,323.59999999999997V330.8" stroke="#9c2c48" stroke-width="1"/>
<text x="479.8" y="329.8" font-size="7.3" text-anchor="start" fill="#1c1c1c" stroke="#1c1c1c" stroke-width="0.1">Other</text>
<path d="M463.8,339.0H475" stroke="#f0c650" stroke-width="1.6" opacity="0.85"/>
<path d="M469.4,335.4V342.6" stroke="#caa030" stroke-width="1"/>
<text x="479.8" y="341.6" font-size="7.3" text-anchor="start" fill="#1c1c1c" stroke="#1c1c1c" stroke-width="0.1">RD-WBRT</text>
<path d="M463.8,350.9H475" stroke="#72bce2" stroke-width="1.6" opacity="0.85"/>
<path d="M469.4,347.29999999999995V354.5" stroke="#4f93b5" stroke-width="1"/>
<text x="479.8" y="353.5" font-size="7.3" text-anchor="start" fill="#1c1c1c" stroke="#1c1c1c" stroke-width="0.1">SD-WBRT</text>
<path d="M0.5,0V655" stroke="#5e5e5e" stroke-width="1"/>
<path d="M0,0.5H520" stroke="#6a6a6a" stroke-width="1"/>
<path d="M518.5,0V655" stroke="#c4c4c4" stroke-width="1"/>
<path d="M0,653.5H520" stroke="#dcdcdc" stroke-width="1"/>
<path d="M519.5,0V655" stroke="#555" stroke-width="1"/>
<path d="M0,654.5H520" stroke="#4a4a4a" stroke-width="1"/>
</svg></body></html>
